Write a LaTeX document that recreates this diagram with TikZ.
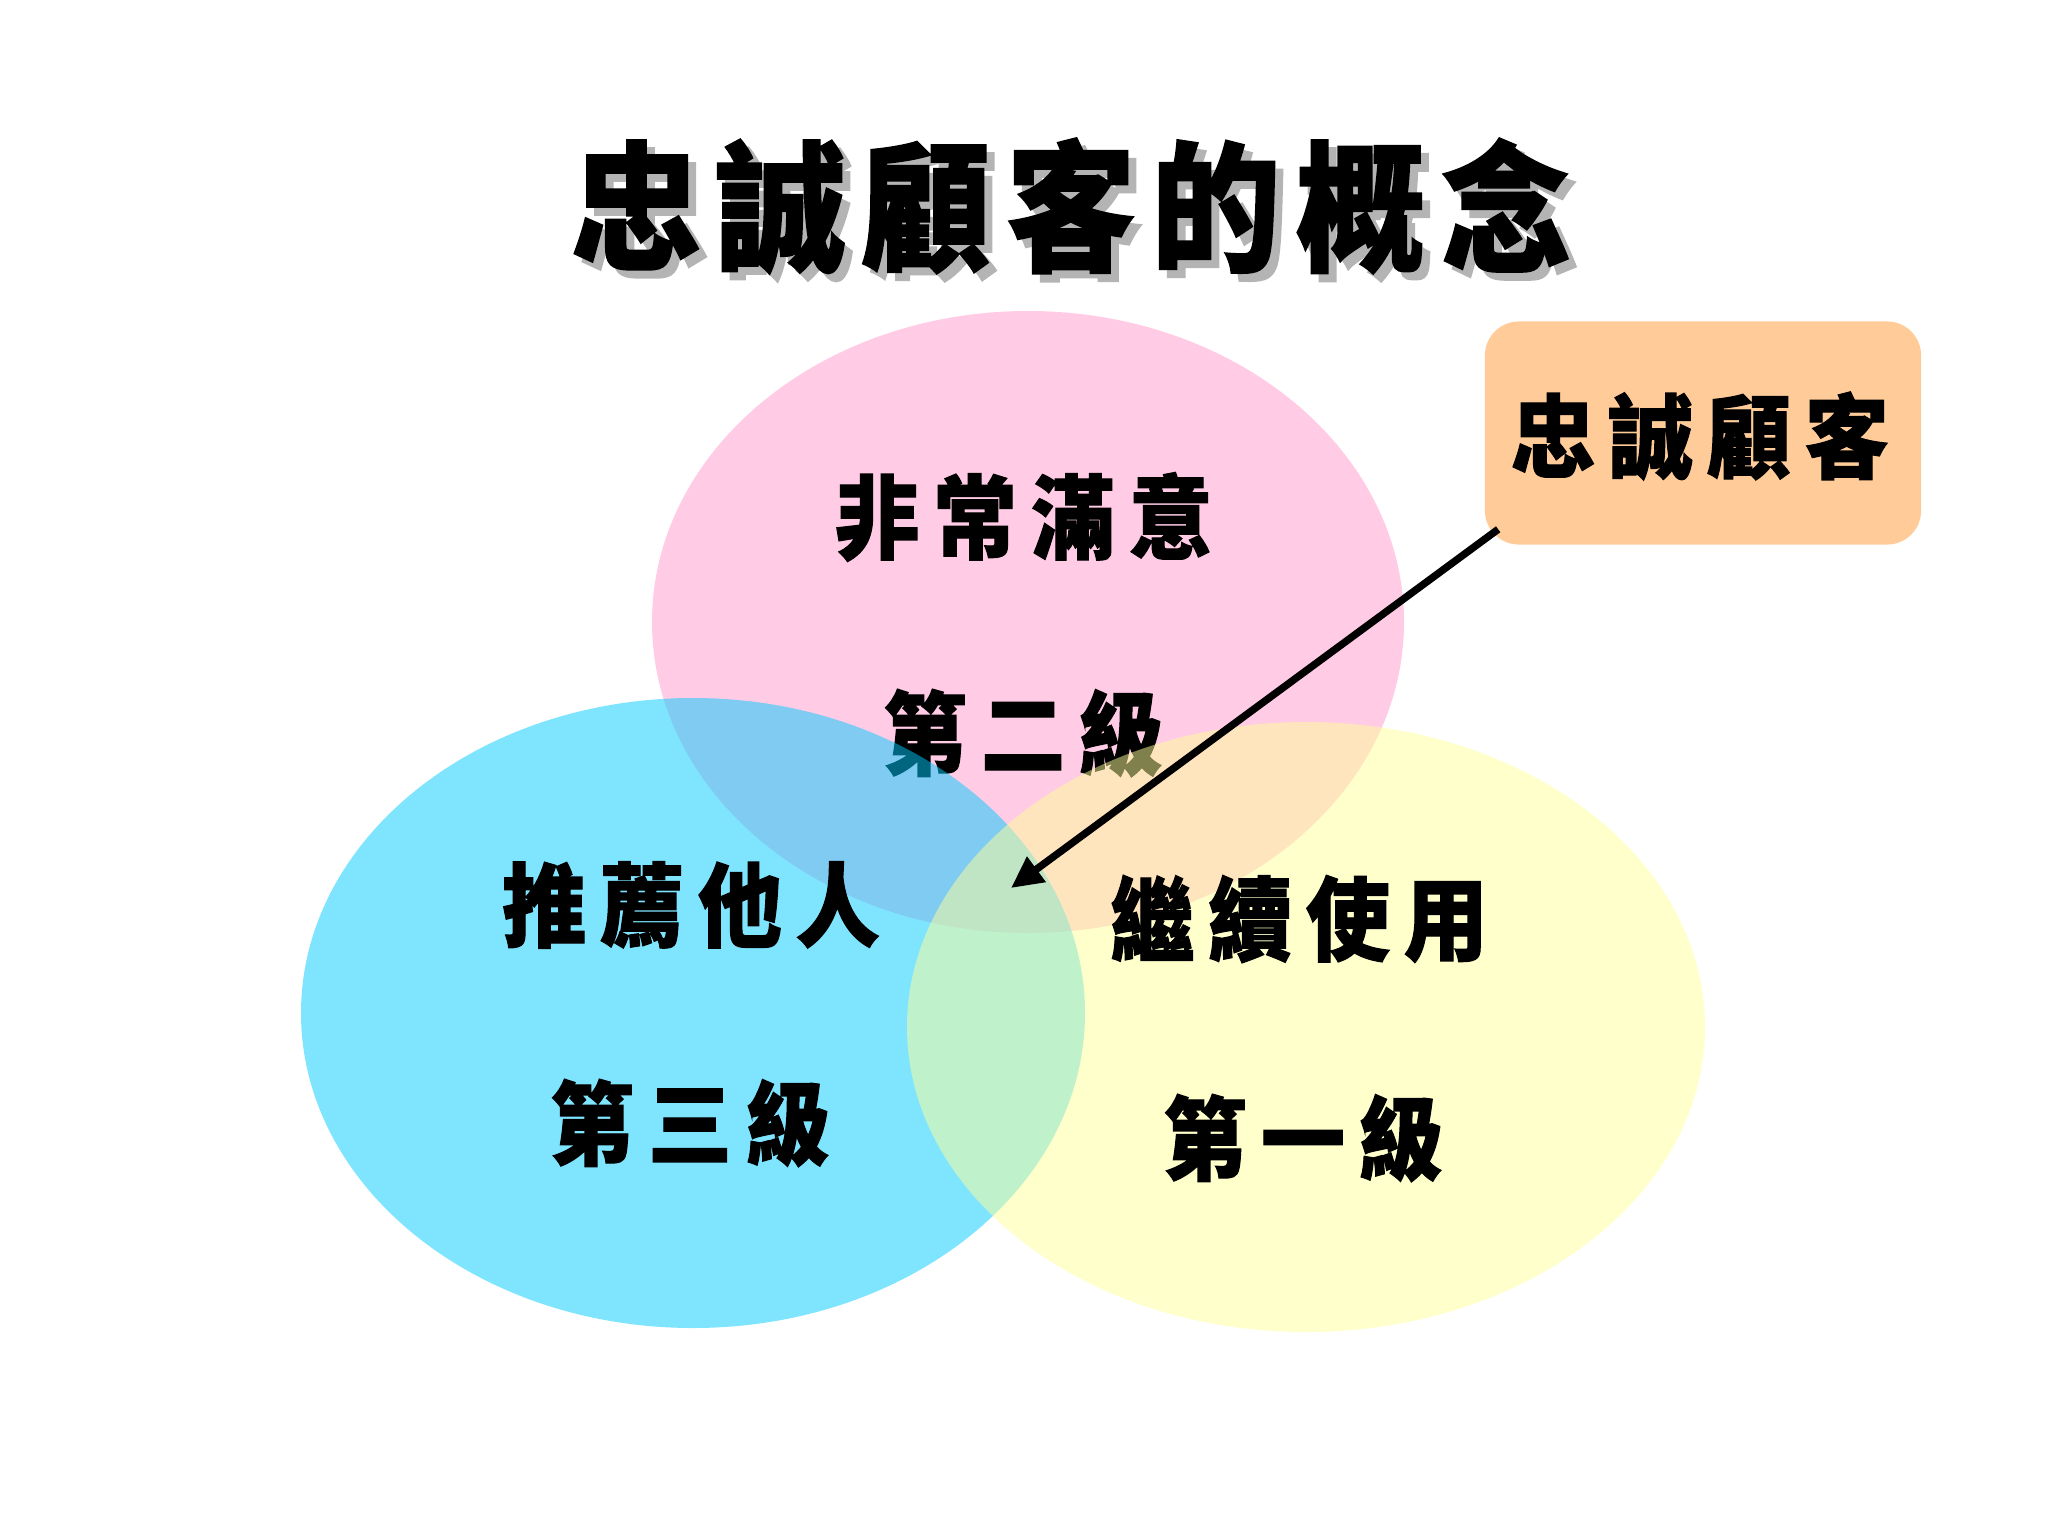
\documentclass[tikz,border=0pt]{standalone}
\usepackage{fontspec}
\usetikzlibrary{arrows.meta}
\newfontfamily\cjk{Noto Sans CJK TC Black}[FakeStretch=0.92,FakeBold=1.2]
\definecolor{pinkc}{HTML}{FF99CC}
\definecolor{cyanc}{HTML}{00CCFF}
\definecolor{yellc}{HTML}{FFFF99}
\definecolor{peach}{HTML}{FFCC99}
\definecolor{shadowgray}{HTML}{B4B4B4}
\newcommand\lgap{\hspace{0.15em}}
\newcommand\tgap{\hspace{0.11em}}
\tikzset{
  lbl/.style={font=\cjk\fontsize{26}{30}\selectfont, inner sep=0pt, text=black},
  ttl/.style={font=\cjk\fontsize{40}{46}\selectfont, inner sep=0pt},
  venn/.style={opacity=0.5},
}
\begin{document}
\begin{tikzpicture}[x=0.01cm,y=-0.01cm]
\fill[white] (0,0) rectangle (2048,1536);
\useasboundingbox (0,0) rectangle (2048,1536);
% title with shadow
\node[ttl, text=shadowgray] (titleshadow) at (1079,214) {忠\tgap 誠\tgap 顧\tgap 客\tgap 的\tgap 概\tgap 念};
\node[ttl, text=black] (title) at (1071,206) {忠\tgap 誠\tgap 顧\tgap 客\tgap 的\tgap 概\tgap 念};
% pink circle and its labels
\fill[pinkc, venn] (1028,622) ellipse [x radius=376, y radius=311];
\node[lbl] (satisfied) at (1024,517) {非\lgap 常\lgap 滿\lgap 意};
\node[lbl] (level2) at (1023,733) {第\lgap 二\lgap 級};
% blue and yellow circles
\fill[cyanc, venn] (693,1013) ellipse [x radius=392, y radius=315];
\fill[yellc, venn] (1306,1027) ellipse [x radius=399, y radius=305];
\node[lbl] (recommend) at (691,905) {推\lgap 薦\lgap 他\lgap 人};
\node[lbl] (level3) at (690,1123) {第\lgap 三\lgap 級};
\node[lbl] (continue) at (1299,919) {繼\lgap 續\lgap 使\lgap 用};
\node[lbl] (level1) at (1303,1138) {第\lgap 一\lgap 級};
% loyal customer box
\node[fill=peach, rounded corners=0.34cm, minimum width=4.36cm, minimum height=2.23cm, inner sep=0pt] (loyal) at (1703,433) {};
\node[lbl] (loyaltext) at (1700,436) {忠\lgap 誠\lgap 顧\lgap 客};
\coordinate (center) at (1011,888);
\draw[line width=2.1pt, -{Triangle[length=9pt,width=8.5pt]}] ([xshift=0.14cm,yshift=0.16cm]loyal.south west) -- (center);
\end{tikzpicture}
\end{document}
